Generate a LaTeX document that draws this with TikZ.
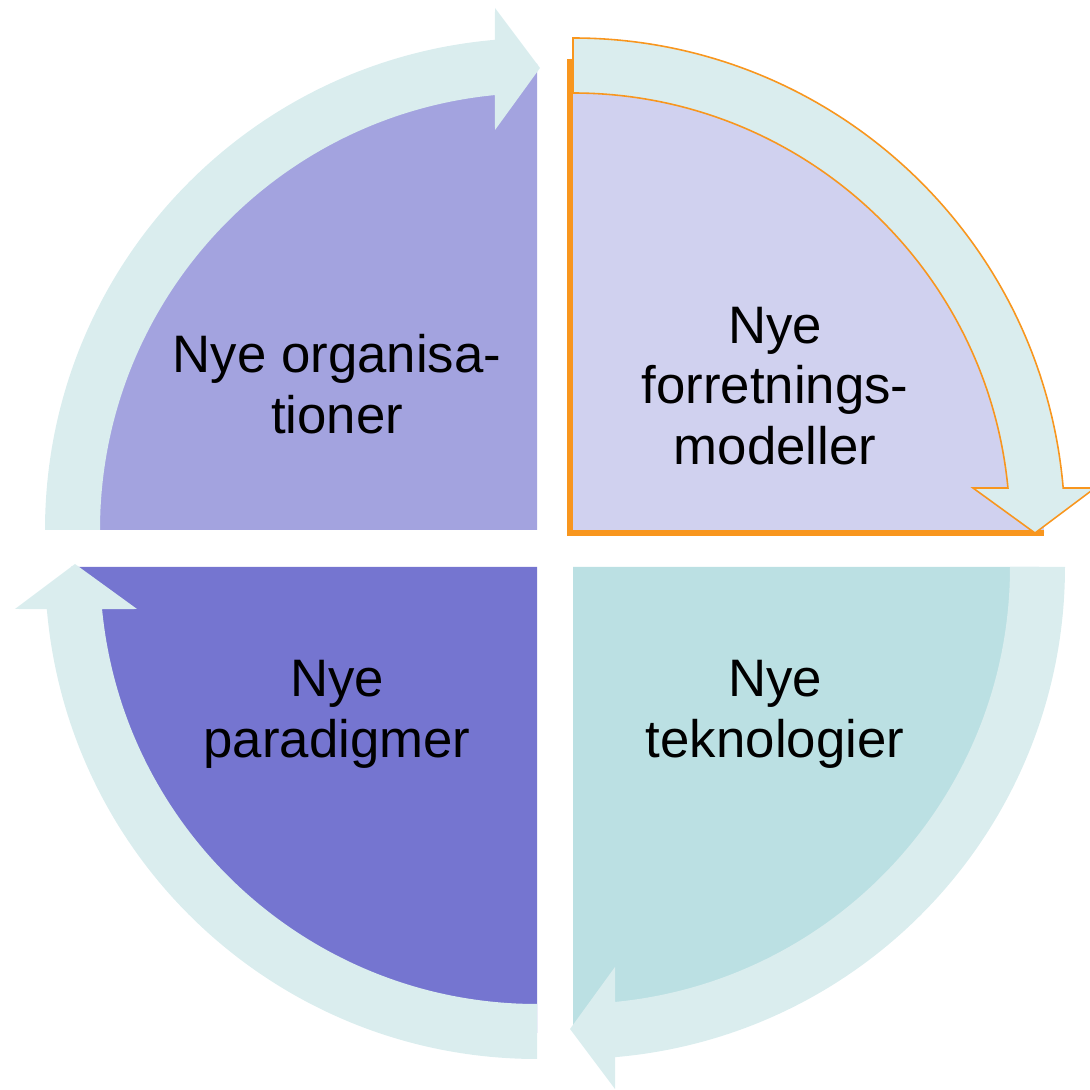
\documentclass[tikz,border=0pt]{standalone}
\usepackage{fontspec}
\setmainfont{Liberation Sans}
\usetikzlibrary{calc}

\definecolor{orgfill}{HTML}{A3A3DF}
\definecolor{forrfill}{HTML}{D0D1EF}
\definecolor{teknfill}{HTML}{BBE0E3}
\definecolor{parafill}{HTML}{7575D0}
\definecolor{cyclefill}{HTML}{DAEDEE}
\definecolor{selorange}{HTML}{F8961E}

\begin{document}
\begin{tikzpicture}[x=0.01cm, y=0.01cm,
  quadtxt/.style={align=center, text=black, font=\fontsize{15pt}{17.3pt}\selectfont},
  arrowplain/.style={fill=cyclefill},
  arrowsel/.style={fill=cyclefill, draw=selorange, line width=0.45pt},
  selline/.style={draw=selorange, line width=1.6pt}]
\useasboundingbox (0,0) rectangle (1090,1090);
% quadrants
\fill[orgfill] (537,560) -- (71,560) arc[start angle=180, end angle=90, radius=466] -- cycle;
\fill[forrfill] (570,557) -- (570,1031) arc[start angle=90, end angle=0, radius=474] -- cycle;
\draw[selline] (570,1031) -- (570,557) -- (1044,557);
\fill[teknfill] (573,523) -- (1039,523) arc[start angle=0, end angle=-90, radius=466] -- cycle;
\fill[parafill] (537,523) -- (537,57) arc[start angle=270, end angle=180, radius=466] -- cycle;
% arrows round the circle
\foreach \cx/\cy/\rot/\sty in {537/560/0/arrowplain, 573/560/-90/arrowsel, 573/523/180/arrowplain, 537/523/90/arrowplain}{
 \begin{scope}[shift={(\cx,\cy)}, rotate=\rot]
 \path[\sty] (180:492) arc[start angle=180, end angle=94.9, radius=492] -- (-42,522) -- (3,462) -- (-42,400)
   -- (95.52:437) arc[start angle=95.52, end angle=180, radius=437] -- cycle;
 \end{scope}
}
% labels
\node[quadtxt] (org) at (337,706) {Nye organisa-\\tioner};
\node[quadtxt] (forr) at (775,704) {Nye\\forretnings-\\modeller};
\node[quadtxt] (para) at (337,376) {Nye\\paradigmer};
\node[quadtxt] (tekn) at (775,376) {Nye\\teknologier};
\end{tikzpicture}
\end{document}
